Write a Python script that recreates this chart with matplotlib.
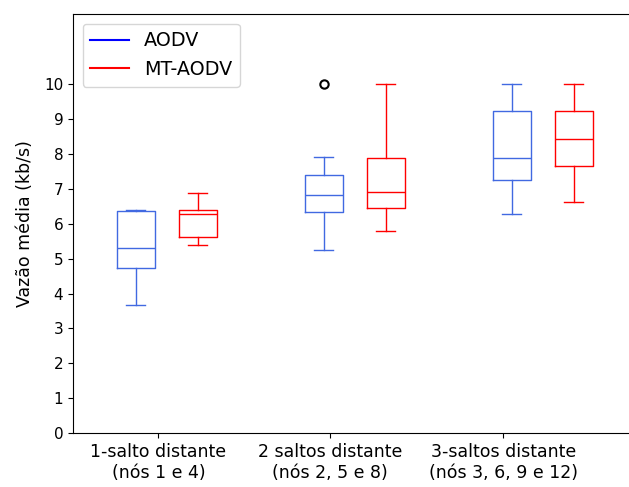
import matplotlib
matplotlib.use("Agg")
import matplotlib.pyplot as plt

categories = ["1-salto distante\n(nós 1 e 4)",
              "2 saltos distante\n(nós 2, 5 e 8)",
              "3-saltos distante\n(nós 3, 6, 9 e 12)"]
series_names = ["AODV", "MT-AODV"]

# five-number summaries: whislo, q1, med, q3, whishi
aodv_whislo = [3.67, 5.26, 6.29]
aodv_q1 = [4.74, 6.33, 7.25]
aodv_med = [5.29, 6.82, 7.89]
aodv_q3 = [6.36, 7.40, 9.22]
aodv_whishi = [6.38, 7.91, 10.0]
aodv_fliers = [[], [10.0], []]

mt_whislo = [5.39, 5.78, 6.62]
mt_q1 = [5.62, 6.44, 7.65]
mt_med = [6.27, 6.91, 8.41]
mt_q3 = [6.40, 7.89, 9.21]
mt_whishi = [6.89, 10.0, 10.0]
mt_fliers = [[], [], []]

yticks = list(range(0, 11))


def stats(lo, q1, med, q3, hi, fl):
    return [dict(whislo=a, q1=b, med=c, q3=d, whishi=e, fliers=f)
            for a, b, c, d, e, f in zip(lo, q1, med, q3, hi, fl)]


fig = plt.figure(figsize=(6.29, 4.87), dpi=100)
ax = fig.add_axes([73 / 629, (487 - 433.3) / 487, (636.5 - 73) / 629, (433.3 - 14) / 487])

blue = "#4169E1"
red = "#FF0000"
centers = [0, 2, 4]

def draw(st, pos, color):
    ax.bxp(st, positions=pos, widths=0.405, manage_ticks=False,
           boxprops=dict(color=color), whiskerprops=dict(color=color),
           capprops=dict(color=color), medianprops=dict(color=color),
           flierprops=dict(marker='o', markeredgecolor='black', markerfacecolor='none',
                           markersize=6, markeredgewidth=1.5))

draw(stats(aodv_whislo, aodv_q1, aodv_med, aodv_q3, aodv_whishi, aodv_fliers),
     [c - 0.33 for c in centers], blue)
draw(stats(mt_whislo, mt_q1, mt_med, mt_q3, mt_whishi, mt_fliers),
     [c + 0.33 for c in centers], red)

ax.plot([], c='#0000FF', label=series_names[0])
ax.plot([], c=red, label=series_names[1])
ax.legend(loc='upper left', fontsize=13.8)

ax.spines['right'].set_visible(False)
ax.patch.set_visible(False)
ax.set_xlim(-1, 5)
ax.set_ylim(0, 12)
ax.set_yticks(yticks)
ax.set_xticks([-0.09, 1.74, 3.58])
ax.set_xticklabels(categories, fontsize=12.5)
ax.tick_params(axis='y', labelsize=11)
ax.set_ylabel("Vazão média (kb/s)", fontsize=12.5, labelpad=7)

fig.savefig("out.png", dpi=100)
